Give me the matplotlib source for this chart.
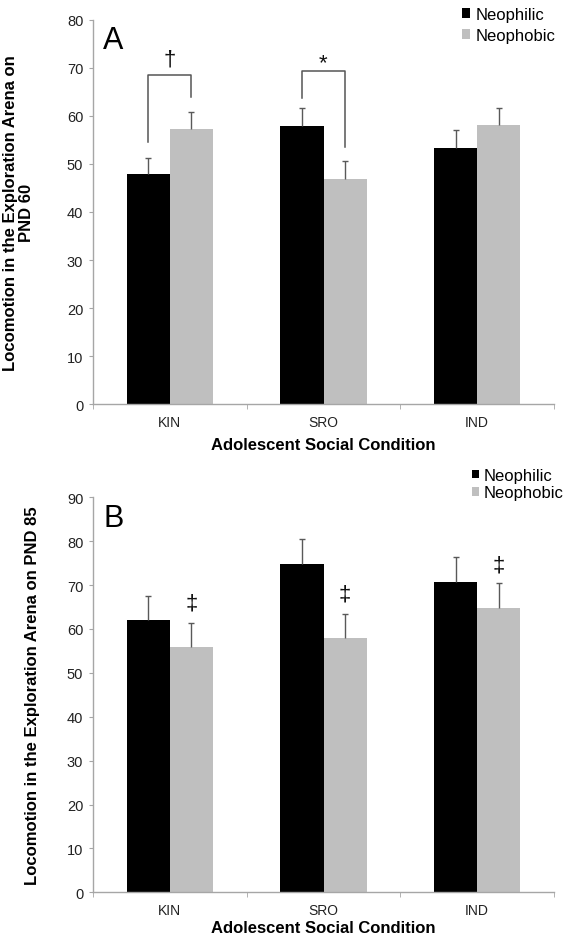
import matplotlib
matplotlib.use("Agg")
import matplotlib.pyplot as plt
from matplotlib.patches import Patch
import numpy as np

plt.rcParams["font.family"] = ["Liberation Sans", "DejaVu Sans"]

conditions = ["KIN", "SRO", "IND"]
groups = ["Neophilic", "Neophobic"]

# panel A: PND 60
a_neophilic = [48.0, 57.8, 53.3]
a_neophilic_sem = [3.3, 3.8, 3.7]
a_neophobic = [57.3, 46.9, 58.1]
a_neophobic_sem = [3.5, 3.7, 3.6]

# panel B: PND 85
b_neophilic = [62.0, 74.8, 70.8]
b_neophilic_sem = [5.4, 5.7, 5.6]
b_neophobic = [55.8, 57.9, 64.8]
b_neophobic_sem = [5.5, 5.4, 5.6]

# significance marks
a_brackets = [(0, 68.4, 54.5, 63.9, "\u2020", 71.8), (1, 69.4, 63.8, 53.5, "*", 71.1)]
b_marks_y = [66.0, 67.9, 74.5]

W, H = 566, 937
fig = plt.figure(figsize=(W / 100, H / 100), dpi=100)

BLACK = "#000000"
GREY = "#bfbfbf"
SPINE = "#a6a6a6"
ERR = "#595959"
bw = 0.28


def px_axes(left, top, right, bottom):
    return fig.add_axes([left / W, 1 - bottom / H, (right - left) / W, (bottom - top) / H])


def upper_err(ax, xs, ys, sem):
    # only the upper half of the error bar, as in the original figure
    ys = np.asarray(ys)
    sem = np.asarray(sem)
    ax.vlines(xs, ys, ys + sem, color=ERR, lw=1, zorder=3)
    ax.plot(xs, ys + sem, ls="none", marker="_", ms=5, mew=1, color=ERR, zorder=3)


def draw_panel(ax, neophilic, n_sem, neophobic, p_sem, ymax, ylabel, letter, ylab_x, xlab_y):
    x = np.arange(len(conditions))
    ax.bar(x - bw / 2, neophilic, bw, color=BLACK, zorder=2)
    ax.bar(x + bw / 2, neophobic, bw, color=GREY, zorder=2)
    upper_err(ax, x - bw / 2, neophilic, n_sem)
    upper_err(ax, x + bw / 2, neophobic, p_sem)

    ax.set_xlim(-0.5, 2.5)
    ax.set_ylim(0, ymax)
    ax.set_yticks(np.arange(0, ymax + 1, 10))
    ax.set_xticks(x)
    ax.set_xticklabels(conditions)
    ax.set_xticks([-0.5, 0.5, 1.5, 2.5], minor=True)
    ax.tick_params(axis="x", which="major", length=0, pad=8, labelsize=10, labelcolor="#222222")
    ax.tick_params(axis="x", which="minor", length=3.5, color=SPINE, direction="out")
    ax.tick_params(axis="y", length=3, color=SPINE, pad=4, labelsize=10.5, labelcolor="#222222")
    for s in ["top", "right"]:
        ax.spines[s].set_visible(False)
    for s in ["left", "bottom"]:
        ax.spines[s].set_color(SPINE)
        ax.spines[s].set_linewidth(1)

    ax.set_ylabel(ylabel, fontsize=12, fontweight="bold", linespacing=1.1)
    ax.yaxis.set_label_coords(ylab_x, 0.5)
    ax.set_xlabel("Adolescent Social Condition", fontsize=12, fontweight="bold")
    ax.xaxis.set_label_coords(0.5, xlab_y)

    ax.text(0.022, 0.985, letter, transform=ax.transAxes, fontsize=22, va="top", ha="left")


# Panel A
axA = px_axes(93, 20.7, 554, 405.3)
draw_panel(axA, a_neophilic, a_neophilic_sem, a_neophobic, a_neophobic_sem, 80,
           "Locomotion in the Exploration Arena on\nPND 60", "A", -0.128, -0.085)
for xc, top, yl, yr, sym, ys in a_brackets:
    axA.plot([xc - bw / 2, xc - bw / 2, xc + bw / 2, xc + bw / 2], [yl, top, top, yr],
             color="#555555", lw=1.1, zorder=3)
    axA.text(xc, ys, sym, ha="center", va="center", fontsize=16, color="#111111")

# Panel B
axB = px_axes(93, 498.3, 554, 893.3)
draw_panel(axB, b_neophilic, b_neophilic_sem, b_neophobic, b_neophobic_sem, 90,
           "Locomotion in the Exploration Arena on PND 85", "B", -0.115, -0.07)
for i, ym in enumerate(b_marks_y):
    axB.text(i + bw / 2, ym, "\u2021", ha="center", va="center", fontsize=16, color="#111111")

handles = [Patch(facecolor=BLACK, edgecolor="none"), Patch(facecolor=GREY, edgecolor="none")]
fig.legend(handles, groups, loc="upper left", bbox_to_anchor=(462 / W, 1 - 8 / H),
           frameon=False, fontsize=12, handlelength=0.5, handleheight=0.5,
           handletextpad=0.3, labelspacing=0.35, borderpad=0, borderaxespad=0)
fig.legend(handles, groups, loc="upper left", bbox_to_anchor=(472 / W, 1 - 469 / H),
           frameon=False, fontsize=12, handlelength=0.4, handleheight=0.4,
           handletextpad=0.3, labelspacing=0.15, borderpad=0, borderaxespad=0)

fig.savefig("out.png", dpi=100)
